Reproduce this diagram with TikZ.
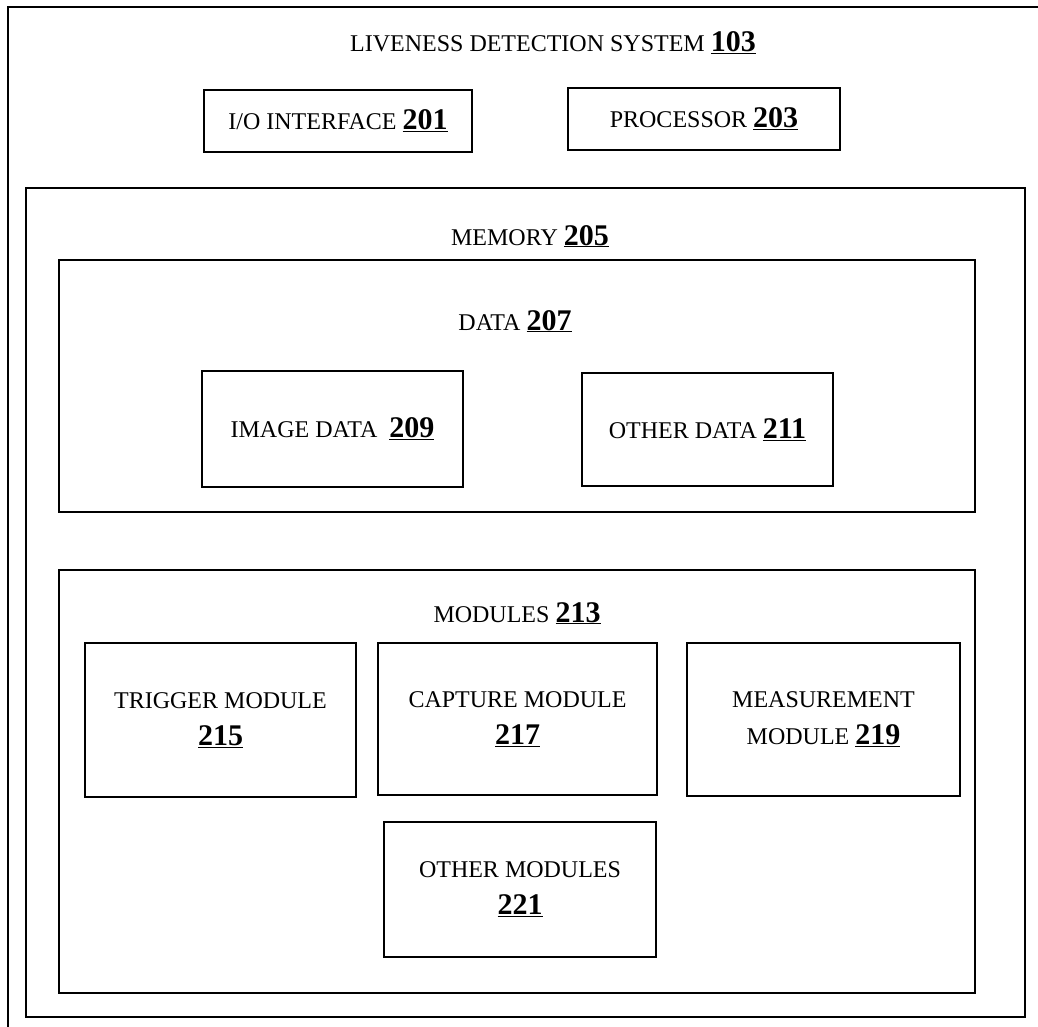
\documentclass[tikz,border=0pt]{standalone}
\usepackage{fontspec}
\setmainfont{Liberation Serif}
\newcommand{\refnr}[1]{{\fontsize{30}{36}\selectfont\bfseries\underline{#1}}}
\begin{document}
\begin{tikzpicture}[x=1pt,y=-1pt,
  box/.style={draw,line width=1.8pt,inner sep=0pt,align=center,
    font=\fontsize{24}{37}\selectfont},
  frame/.style={draw,line width=1.8pt},
  thinframe/.style={draw,line width=1.2pt},
  ttl/.style={inner sep=0pt,anchor=base,font=\fontsize{24}{28}\selectfont}]
\useasboundingbox (0,0) rectangle (1038,1027);
\clip (0,0) rectangle (1038,1027);
% outer system box (extends beyond the picture at right and bottom)
\draw[frame] (8,7) rectangle (1046,1040);
\node[ttl] (sys) at (553,52) {LIVENESS DETECTION SYSTEM \refnr{103}};
\node[box,minimum width=268,minimum height=62] (io) at (338,121) {I/O INTERFACE \refnr{201}};
\node[box,minimum width=272,minimum height=62] (proc) at (704,119) {PROCESSOR \refnr{203}};
% memory
\draw[frame] (26,188) rectangle (1025,1017);
\node[ttl] (mem) at (530,245) {MEMORY \refnr{205}};
% data
\draw[thinframe] (59,260) rectangle (975,512);
\node[ttl] (data) at (515,330) {DATA \refnr{207}};
\node[box,minimum width=261,minimum height=116] (img) at (332.5,429) {IMAGE DATA\ \ \refnr{209}};
\node[box,minimum width=251,minimum height=113] (oth) at (707.5,429.5) {OTHER DATA \refnr{211}};
% modules
\draw[thinframe] (59,570) rectangle (975,993);
\node[ttl] (mods) at (517,622) {MODULES \refnr{213}};
\node[box,minimum width=271,minimum height=154] (trig) at (220.5,720) {TRIGGER MODULE\\\refnr{215}};
\node[box,minimum width=279,minimum height=152] (cap) at (517.5,719) {CAPTURE MODULE\\\refnr{217}};
\node[box,minimum width=273,minimum height=153] (meas) at (823.5,719.5) {MEASUREMENT\\MODULE \refnr{219}};
\node[box,minimum width=272,minimum height=135] (othm) at (520,889.5) {OTHER MODULES\\\refnr{221}};
\end{tikzpicture}
\end{document}
